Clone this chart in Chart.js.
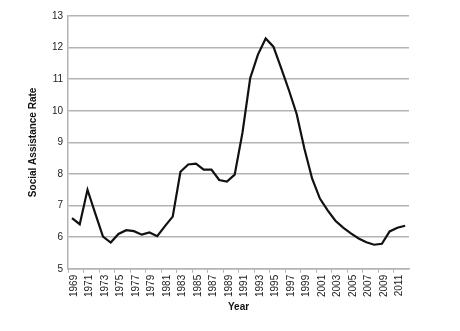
<!DOCTYPE html>
<html lang="en">
<head>
  <meta charset="UTF-8" />
  <title>Social Assistance Rate</title>
  <script src="https://cdn.jsdelivr.net/npm/chart.js"></script>
  <style>
    html, body { margin: 0; padding: 0; background: #fff; }
    canvas { display: block; }
  </style>
</head>
<body>
  <canvas id="rateChart" width="460" height="331"></canvas>

  <script>
    const years = [
      '1969', '1970', '1971', '1972', '1973', '1974', '1975', '1976', '1977', '1978',
      '1979', '1980', '1981', '1982', '1983', '1984', '1985', '1986', '1987', '1988',
      '1989', '1990', '1991', '1992', '1993', '1994', '1995', '1996', '1997', '1998',
      '1999', '2000', '2001', '2002', '2003', '2004', '2005', '2006', '2007', '2008',
      '2009', '2010', '2011', '2012'
    ];
    const rates = [
      6.6, 6.41, 7.5, 6.75, 6.02, 5.83, 6.1, 6.22, 6.19, 6.08,
      6.15, 6.03, 6.35, 6.65, 8.07, 8.3, 8.33, 8.14, 8.14, 7.81,
      7.76, 7.98, 9.3, 11.03, 11.78, 12.29, 12.03, 11.35, 10.65, 9.9,
      8.8, 7.85, 7.22, 6.85, 6.52, 6.3, 6.12, 5.96, 5.84, 5.76,
      5.79, 6.18, 6.3, 6.36
    ];
    const yTicks = [5, 6, 7, 8, 9, 10, 11, 12, 13];

    const grey = '#b3b3b3';
    const font = { family: '"Liberation Sans", Arial, sans-serif', size: 10 };

    new Chart(document.getElementById('rateChart'), {
      type: 'line',
      data: {
        labels: years,
        datasets: [{
          data: rates,
          borderColor: '#111',
          borderWidth: 2.2,
          pointRadius: 0,
          tension: 0,
          fill: false
        }]
      },
      options: {
        responsive: false,
        animation: false,
        layout: { padding: { top: 16, right: 51, bottom: 18, left: 27 } },
        plugins: { legend: { display: false }, tooltip: { enabled: false } },
        scales: {
          x: {
            offset: true,
            grid: {
              offset: true,
              drawOnChartArea: false,
              drawTicks: true,
              tickLength: 4,
              color: ctx => (ctx.index % 2 === 0 ? grey : 'rgba(0,0,0,0)'),
              lineWidth: 1
            },
            border: { display: true, color: grey, width: 1.5 },
            ticks: {
              autoSkip: false,
              minRotation: 90,
              maxRotation: 90,
              padding: 2,
              labelOffset: 2,
              color: '#222',
              font: font,
              callback: (v, i) => (i % 2 === 0 ? years[i] : '')
            },
            title: {
              display: true,
              text: 'Year',
              color: '#111',
              font: { family: font.family, size: 10, weight: 'bold' },
              padding: { top: 2, bottom: 0 }
            }
          },
          y: {
            min: 5,
            max: 13,
            afterBuildTicks: axis => { axis.ticks = yTicks.map(v => ({ value: v })); },
            grid: { color: grey, lineWidth: 1.5, drawTicks: false },
            border: { display: true, color: grey, width: 1.5 },
            ticks: { color: '#222', font: font, padding: 5 },
            title: {
              display: true,
              text: 'Social Assistance Rate',
              color: '#111',
              font: { family: font.family, size: 10, weight: 'bold' },
              padding: { top: 0, bottom: 8 }
            }
          }
        }
      }
    });
  </script>
</body>
</html>
